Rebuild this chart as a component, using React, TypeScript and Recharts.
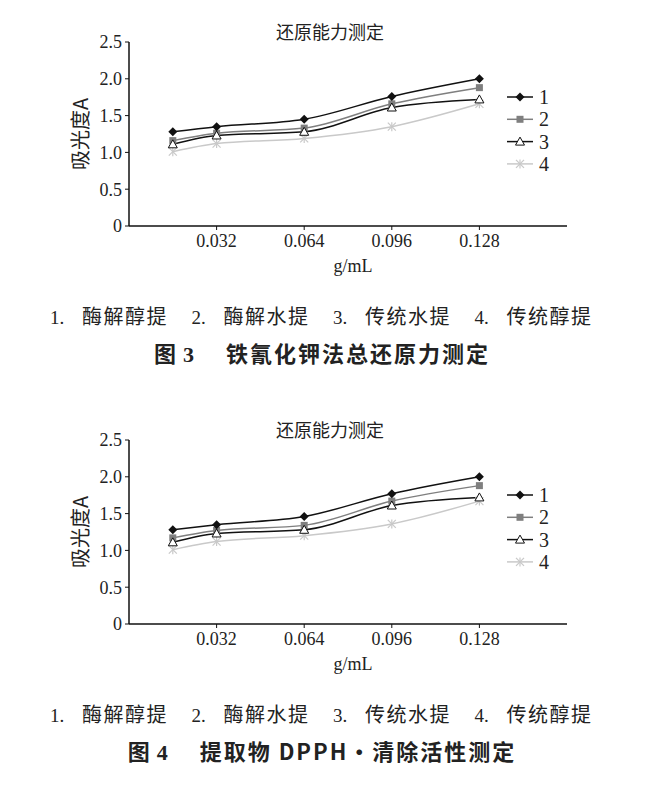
import React from "react";
import { LineChart, Line, XAxis, YAxis } from "recharts";

const xValues = [0.016, 0.032, 0.064, 0.096, 0.128];
const xTicks = [0.032, 0.064, 0.096, 0.128];
const yTicks = [0, 0.5, 1.0, 1.5, 2.0, 2.5];
const seriesNames = ["1", "2", "3", "4"];

const chart1S1 = [1.28, 1.35, 1.45, 1.76, 2.0];
const chart1S2 = [1.16, 1.26, 1.33, 1.66, 1.88];
const chart1S3 = [1.11, 1.23, 1.28, 1.61, 1.72];
const chart1S4 = [1.01, 1.12, 1.19, 1.35, 1.66];

const chart2S1 = [1.28, 1.35, 1.46, 1.77, 2.0];
const chart2S2 = [1.17, 1.27, 1.34, 1.67, 1.88];
const chart2S3 = [1.11, 1.23, 1.28, 1.61, 1.72];
const chart2S4 = [1.01, 1.12, 1.2, 1.36, 1.67];

const legendItems = ["1.", "2.", "3.", "4."];
const legendLabels = ["酶解醇提", "酶解水提", "传统水提", "传统醇提"];

const chartTitle = "还原能力测定";
const yLabel = "吸光度A";
const xLabel = "g/mL";

const charts = [
  { series: [chart1S1, chart1S2, chart1S3, chart1S4], figWord: "图", figNum: "3", caption: "铁氰化钾法总还原力测定" },
  { series: [chart2S1, chart2S2, chart2S3, chart2S4], figWord: "图", figNum: "4", caption: "提取物 DPPH・清除活性测定" },
];

const colors = ["#111111", "#7f7f7f", "#111111", "#c9c9c9"];
const serif = "'Liberation Serif', 'DejaVu Serif', serif";
const cjk = "'Noto Sans CJK SC', sans-serif";

function Marker({ idx, cx, cy }: { idx: number; cx: number; cy: number }) {
  if (cx == null || cy == null) return null;
  if (idx === 0) {
    return <polygon points={`${cx},${cy - 4.5} ${cx + 4.5},${cy} ${cx},${cy + 4.5} ${cx - 4.5},${cy}`} fill="#111" />;
  }
  if (idx === 1) {
    return <rect x={cx - 3.5} y={cy - 3.5} width={7} height={7} fill="#7f7f7f" />;
  }
  if (idx === 2) {
    return <polygon points={`${cx},${cy - 4.5} ${cx + 4.5},${cy + 3.5} ${cx - 4.5},${cy + 3.5}`} fill="#fff" stroke="#111" strokeWidth={1} />;
  }
  return (
    <g stroke="#c9c9c9" strokeWidth={1.2}>
      <line x1={cx - 4} y1={cy - 4} x2={cx + 4} y2={cy + 4} />
      <line x1={cx - 4} y1={cy + 4} x2={cx + 4} y2={cy - 4} />
      <line x1={cx} y1={cy - 4.5} x2={cx} y2={cy + 4.5} />
    </g>
  );
}

function LegendBox() {
  return (
    <svg width={70} height={95} style={{ position: "absolute", left: 505, top: 87 }}>
      {seriesNames.map((n, i) => {
        const y = 10 + i * 22.3;
        return (
          <g key={n}>
            <line x1={2} y1={y} x2={28} y2={y} stroke={colors[i]} strokeWidth={1.5} />
            <Marker idx={i} cx={15} cy={y} />
            <text x={34} y={y + 7} fontFamily={serif} fontSize={20} fill="#222">{n}</text>
          </g>
        );
      })}
    </svg>
  );
}

function ChartBlock({ series, figWord, figNum, caption, top }: any) {
  const data = xValues.map((x, i) => ({ x, s0: series[0][i], s1: series[1][i], s2: series[2][i], s3: series[3][i] }));
  return (
    <div style={{ position: "absolute", left: 0, top, width: 661, height: 398 }}>
      <div style={{ position: "absolute", left: 330, top: 19, transform: "translateX(-50%)", whiteSpace: "nowrap", fontFamily: cjk, fontSize: 18, color: "#222", lineHeight: "24px" }}>
        {chartTitle}
      </div>
      <div style={{ position: "absolute", left: 79, top: 134, transform: "translate(-50%, -50%) rotate(-90deg)", whiteSpace: "nowrap", fontFamily: cjk, fontSize: 20, color: "#222" }}>
        {yLabel}
      </div>
      <div style={{ position: "absolute", left: 353, top: 254, transform: "translateX(-50%)", whiteSpace: "nowrap", fontFamily: serif, fontSize: 18, color: "#222", lineHeight: "24px" }}>
        {xLabel}
      </div>
      <div style={{ position: "absolute", left: 0, top: 0 }}>
        <LineChart width={661} height={280} data={data} margin={{ top: 42, right: 94, bottom: 24, left: 0 }}>
          <XAxis
            dataKey="x"
            type="number"
            domain={[0, 0.16]}
            ticks={xTicks}
            tickFormatter={(v: number) => v.toFixed(3)}
            height={30}
            axisLine={{ stroke: "#111", strokeWidth: 1.5 }}
            tickLine={{ stroke: "#111" }}
            tickSize={4}
            tickMargin={4}
            tick={{ fontFamily: serif, fontSize: 18, fill: "#222" }}
          />
          <YAxis
            type="number"
            domain={[0, 2.5]}
            ticks={yTicks}
            tickFormatter={(v: number) => (v === 0 ? "0" : v.toFixed(1))}
            width={129}
            axisLine={{ stroke: "#111", strokeWidth: 1.5 }}
            tickLine={{ stroke: "#111" }}
            tickSize={4}
            tickMargin={3}
            tick={{ fontFamily: serif, fontSize: 18, fill: "#222" }}
          />
          {[3, 1, 2, 0].map((i) => (
            <Line
              key={i}
              dataKey={`s${i}`}
              name={seriesNames[i]}
              type="monotone"
              stroke={colors[i]}
              strokeWidth={1.5}
              isAnimationActive={false}
              dot={(p: any) => <Marker key={`d${i}-${p.index}`} idx={i} cx={p.cx} cy={p.cy} />}
              activeDot={false}
            />
          ))}
        </LineChart>
      </div>
      <LegendBox />
      {legendItems.map((num, i) => (
        <div key={i} style={{ position: "absolute", top: 303, left: 50 + i * 141.5, whiteSpace: "nowrap", color: "#222", lineHeight: "26px", display: "flex", alignItems: "baseline" }}>
          <span style={{ fontFamily: serif, fontSize: 19, width: 32, display: "inline-block" }}>{num}</span>
          <span style={{ fontFamily: cjk, fontSize: 20, letterSpacing: 1.5 }}>{legendLabels[i]}</span>
        </div>
      ))}
      <div style={{ position: "absolute", top: 337, left: 322, transform: "translateX(-50%)", whiteSpace: "nowrap", fontFamily: cjk, fontWeight: 700, fontSize: 22, color: "#222", letterSpacing: 2, lineHeight: "30px", display: "flex", alignItems: "baseline" }}>
        <span>{figWord}</span>
        <span style={{ fontFamily: serif, fontWeight: 700, marginLeft: 5 }}>{figNum}</span>
        <span style={{ marginLeft: 30 }}>{caption}</span>
      </div>
    </div>
  );
}

export default function App() {
  return (
    <div style={{ position: "absolute", left: 0, top: 0, width: 661, height: 795, background: "#fff" }}>
      {charts.map((c, i) => (
        <ChartBlock key={i} series={c.series} figWord={c.figWord} figNum={c.figNum} caption={c.caption} top={i * 398} />
      ))}
    </div>
  );
}
